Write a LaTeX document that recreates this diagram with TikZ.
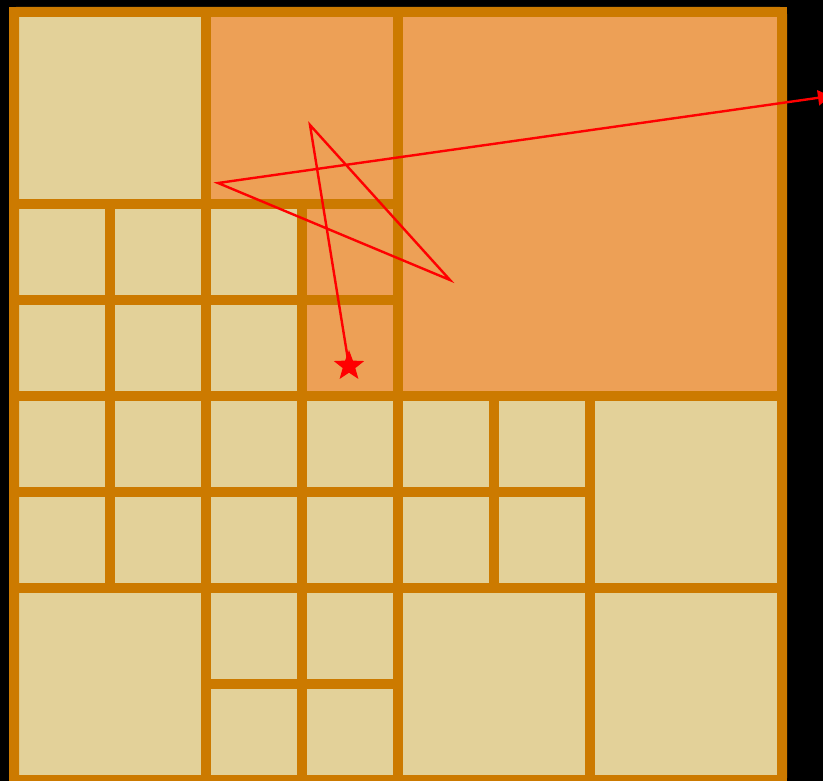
\documentclass[tikz,border=0pt]{standalone}
\usepackage{tikz}
\usetikzlibrary{arrows.meta,shapes.geometric}
\definecolor{cellline}{HTML}{CC7A00}
\definecolor{cellsand}{HTML}{E3D199}
\definecolor{cellhot}{HTML}{EDA056}
\definecolor{pathred}{HTML}{FF0000}
\tikzset{
  cell/.style={draw=cellline,line width=10pt},
  trail/.style={pathred,line width=2.4pt,line join=miter}
}
\begin{document}
\begin{tikzpicture}[x=1pt,y=-1pt]
  \useasboundingbox (0,0) rectangle (823,781);
  \fill[black] (0,0) rectangle (823,781);
  % celdas del arbol cuaternario (col/fila/lado en unidades de 96)
  \foreach \c/\r/\s in {0/0/2, 0/2/1, 1/2/1, 0/3/1, 1/3/1, 2/2/1, 2/3/1,
      0/4/1, 1/4/1, 0/5/1, 1/5/1, 2/4/1, 3/4/1, 2/5/1, 3/5/1,
      0/6/2, 2/6/1, 3/6/1, 2/7/1, 3/7/1,
      4/4/1, 5/4/1, 4/5/1, 5/5/1, 6/4/2, 4/6/2, 6/6/2}
    \filldraw[cell,fill=cellsand] (14+96*\c,12+96*\r) rectangle ++(96*\s,96*\s);
  % celdas visitadas
  \foreach \c/\r/\s in {2/0/2, 4/0/4, 3/2/1, 3/3/1}
    \filldraw[cell,fill=cellhot] (14+96*\c,12+96*\r) rectangle ++(96*\s,96*\s);
  % borde exterior
  \draw[cell,rounded corners=3pt] (14,12) rectangle (782,780);
  % recorrido
  \node[star,star points=5,star point ratio=2.4,fill=pathred,inner sep=0pt,
        minimum size=32pt] (goal) at (349,366) {};
  \coordinate (p1) at (310,125);
  \coordinate (p2) at (450,280);
  \coordinate (p3) at (218,183);
  \coordinate (exit) at (831,96);
  \draw[trail,-{Triangle[length=13pt,width=15pt]}]
    (goal.center) -- (p1) -- (p2) -- (p3) -- (exit);
\end{tikzpicture}
\end{document}
